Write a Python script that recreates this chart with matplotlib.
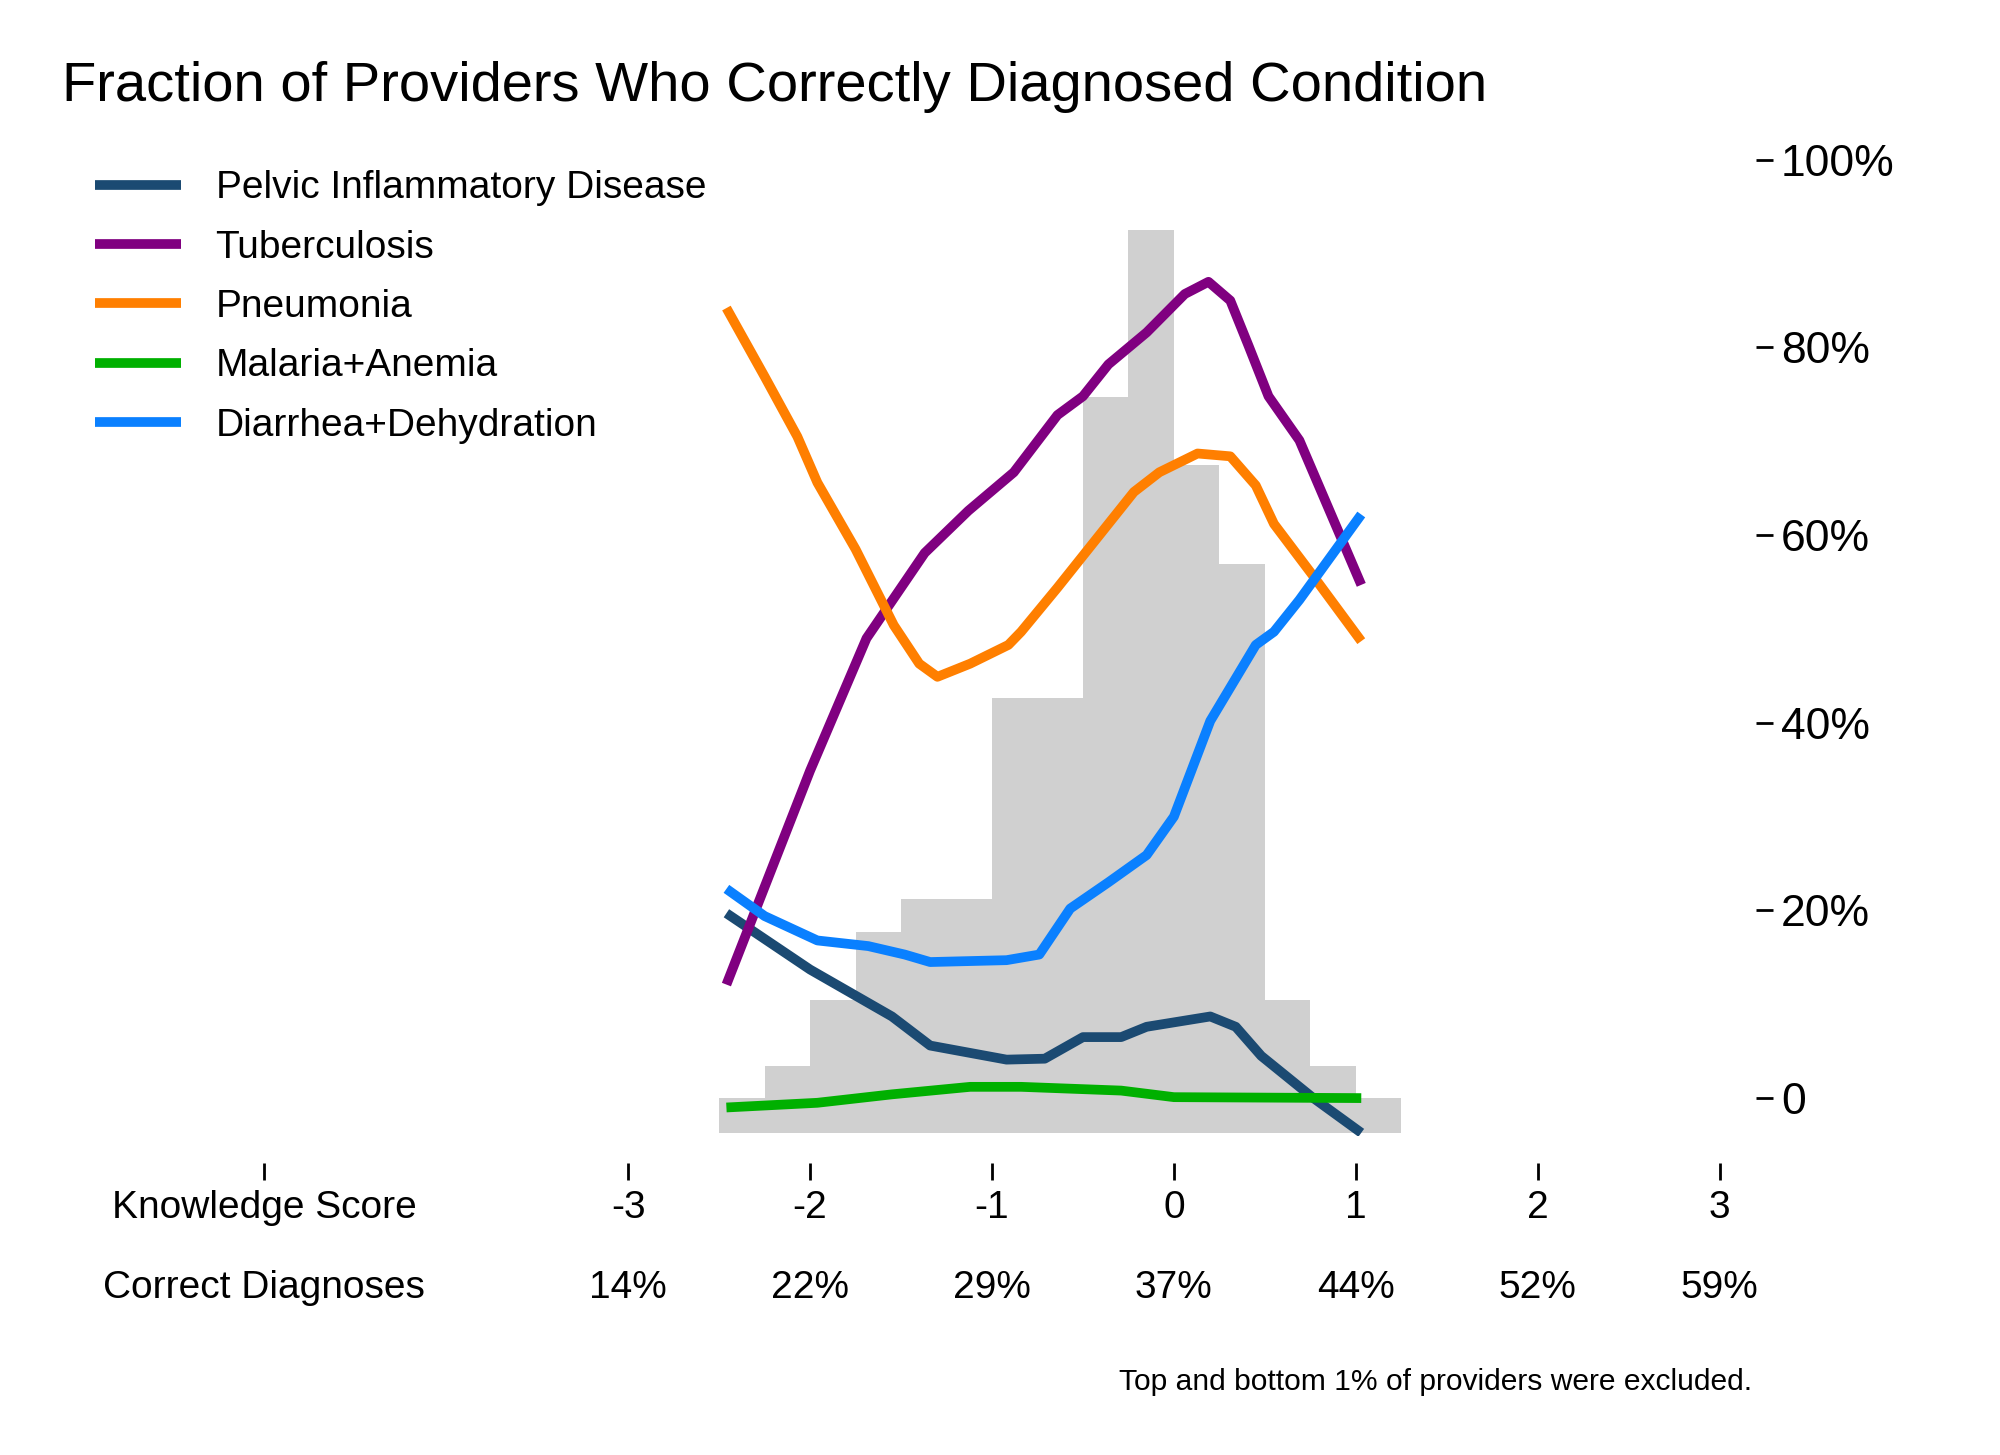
import matplotlib
matplotlib.use("Agg")
import matplotlib.pyplot as plt

# histogram of knowledge scores (bin edges, heights on the % scale)
bin_edges = [-2.5, -2.25, -2.0, -1.75, -1.5, -1.25, -1.0, -0.75, -0.5, -0.25, 0.0, 0.25, 0.5, 0.75, 1.0, 1.25]
bin_tops = [0.0, 3.4, 10.5, 17.7, 21.2, 21.2, 42.6, 42.6, 74.7, 92.5, 67.5, 56.9, 10.5, 3.4, 0.0]
hist_base = -3.7

pid_x = [-2.46, -2.0, -1.55, -1.34, -0.92, -0.71, -0.5, -0.29, -0.15, 0.2, 0.34, 0.48, 0.76, 1.03]
pid_y = [19.7, 13.7, 8.7, 5.6, 4.1, 4.2, 6.5, 6.5, 7.6, 8.7, 7.6, 4.5, 0.1, -3.7]

tb_x = [-2.46, -2.0, -1.69, -1.37, -1.13, -0.88, -0.64, -0.5, -0.36, -0.15, 0.06, 0.19, 0.31, 0.41, 0.52, 0.69, 1.03]
tb_y = [12.1, 34.9, 49.0, 58.1, 62.6, 66.7, 72.8, 74.8, 78.2, 81.6, 85.7, 87.0, 85.0, 80.2, 74.8, 70.1, 54.7]

pn_x = [-2.46, -2.25, -2.07, -1.96, -1.75, -1.54, -1.4, -1.3, -1.12, -0.91, -0.84, -0.64, -0.5, -0.36, -0.22, -0.08, 0.13, 0.31, 0.45, 0.55, 0.76, 1.03]
pn_y = [84.2, 76.9, 70.5, 65.6, 58.5, 50.4, 46.3, 44.9, 46.3, 48.3, 49.7, 54.4, 57.8, 61.2, 64.6, 66.7, 68.7, 68.4, 65.3, 61.2, 55.8, 48.7]

ma_x = [-2.46, -1.96, -1.55, -1.12, -0.84, -0.29, 0.0, 1.03]
ma_y = [-1.0, -0.5, 0.4, 1.2, 1.2, 0.8, 0.1, 0.0]

dd_x = [-2.46, -2.25, -1.96, -1.68, -1.48, -1.34, -0.92, -0.74, -0.57, -0.36, -0.15, 0.0, 0.2, 0.45, 0.55, 0.69, 1.03]
dd_y = [22.3, 19.4, 16.8, 16.2, 15.3, 14.5, 14.7, 15.3, 20.2, 23.0, 25.9, 30.0, 40.2, 48.3, 49.7, 53.1, 62.2]

score_ticks = [-3, -2, -1, 0, 1, 2, 3]
score_labels = ["-3", "-2", "-1", "0", "1", "2", "3"]
diag_labels = ["14%", "22%", "29%", "37%", "44%", "52%", "59%"]
y_ticks = [0, 20, 40, 60, 80, 100]
y_labels = ["0", "20%", "40%", "60%", "80%", "100%"]

plt.rcParams['font.family'] = ['Liberation Sans', 'DejaVu Sans']

fig = plt.figure(figsize=(10, 7.275), dpi=200)
ax = fig.add_axes([0.114, 0.2195, 0.764, 0.690])

widths = [bin_edges[i + 1] - bin_edges[i] for i in range(len(bin_tops))]
heights = [t - hist_base for t in bin_tops]
ax.bar(bin_edges[:-1], heights, width=widths, bottom=hist_base, align='edge', color='#d0d0d0', linewidth=0)

lw = 3.5
ax.plot(pid_x, pid_y, color='#1b4a72', lw=lw, label='Pelvic Inflammatory Disease', solid_capstyle='butt')
ax.plot(tb_x, tb_y, color='#800080', lw=lw, label='Tuberculosis', solid_capstyle='butt')
ax.plot(pn_x, pn_y, color='#ff7f00', lw=lw, label='Pneumonia', solid_capstyle='butt')
ax.plot(ma_x, ma_y, color='#00b000', lw=lw, label='Malaria+Anemia', solid_capstyle='butt')
ax.plot(dd_x, dd_y, color='#0a80ff', lw=lw, label='Diarrhea+Dehydration', solid_capstyle='butt')

ax.set_xlim(-5.2, 3.2)
ax.set_ylim(-4, 103)

for s in ['top', 'left', 'right', 'bottom']:
    ax.spines[s].set_visible(False)
ax.spines['bottom'].set_position(('outward', 10))

ax.set_xticks([-5] + score_ticks)
ax.set_xticklabels([])
ax.tick_params(axis='x', direction='out', length=6, width=1)

ax.yaxis.tick_right()
ax.set_yticks(y_ticks)
ax.set_yticklabels(y_labels, fontsize=16)
ax.tick_params(axis='y', direction='out', length=6, width=1, pad=3)

tr = ax.get_xaxis_transform()
ax.text(-5, -0.072, "Knowledge Score", transform=tr, ha='center', va='center', fontsize=14)
ax.text(-5, -0.152, "Correct Diagnoses", transform=tr, ha='center', va='center', fontsize=14)
for x, s, d in zip(score_ticks, score_labels, diag_labels):
    ax.text(x, -0.072, s, transform=tr, ha='center', va='center', fontsize=14)
    ax.text(x, -0.152, d, transform=tr, ha='center', va='center', fontsize=14)

fig.text(0.031, 0.94, "Fraction of Providers Who Correctly Diagnosed Condition", fontsize=20.2, va='center')
fig.text(0.876, 0.050, "Top and bottom 1% of providers were excluded.", fontsize=10.8, ha='right', va='center')

fig.legend(loc='upper left', bbox_to_anchor=(0.03, 0.907), frameon=False, fontsize=14,
           handlelength=2.2, handletextpad=0.9, labelspacing=0.6)

fig.savefig('out.png', dpi=200)
